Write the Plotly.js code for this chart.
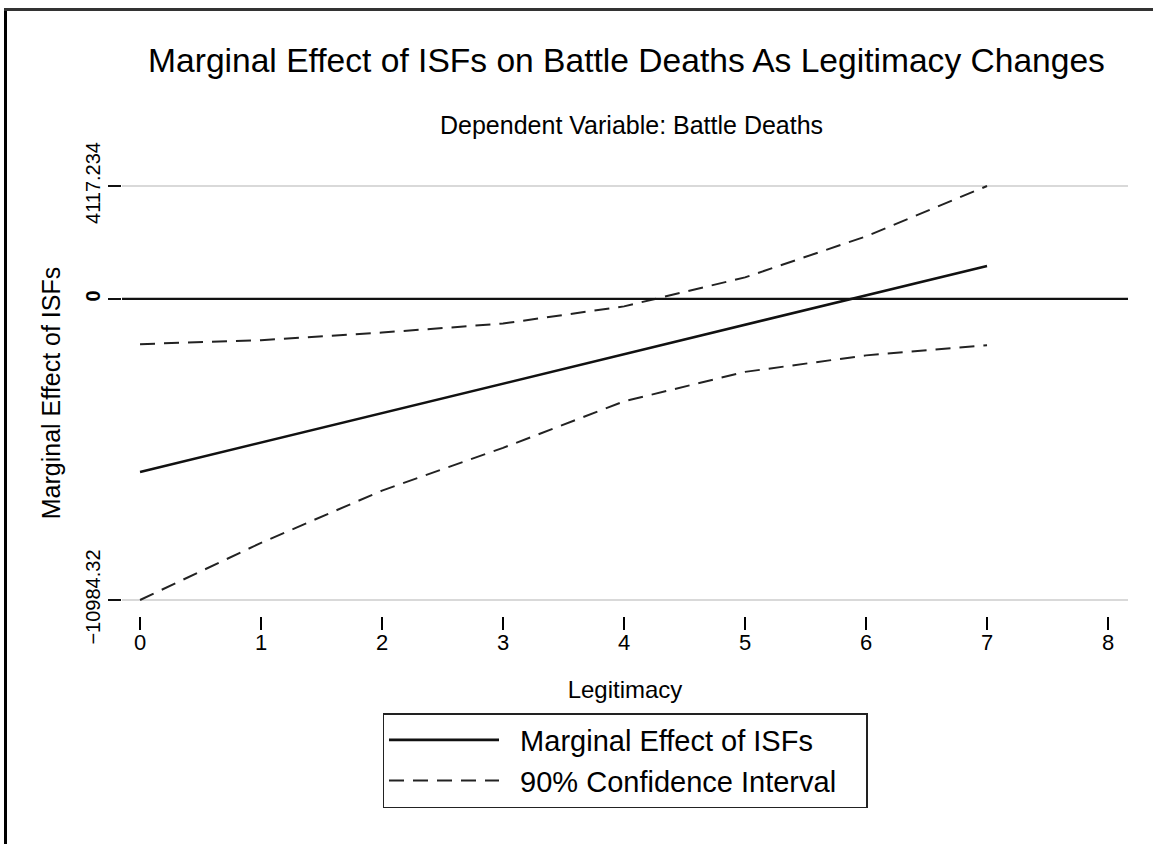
<!DOCTYPE html>
<html>
<head>
<meta charset="utf-8">
<script src="https://cdn.plot.ly/plotly-3.0.1.min.js"></script>
<style>
  html, body { margin: 0; padding: 0; background: #fff; }
  #wrap { position: relative; width: 1153px; height: 844px; }
  #chart { width: 1153px; height: 844px; }
  #bl { position: absolute; left: 4px; top: 8px; width: 3px; height: 836px; background: #000; }
  #bt { position: absolute; left: 4px; top: 8px; width: 1149px; height: 3px; background: #333; }
</style>
</head>
<body>
<div id="wrap">
  <div id="chart"></div>
  <div id="bl"></div>
  <div id="bt"></div>
</div>
<script>
// Data
const legitimacy = [0, 1, 2, 3, 4, 5, 6, 7];
const marginalEffect = [-6315, -5241, -4168, -3094, -2020, -947, 127, 1201];
const upperCI = [-1652, -1506, -1229, -901, -274, 784, 2280, 4117.234];
const lowerCI = [-10984.32, -8900, -6993, -5435, -3739, -2663, -2061, -1689];

const yTickVals = [-10984.32, 0, 4117.234];
const yTickText = ['\u221210984.32', '<b>0</b>', '4117.234'];
const xTickVals = [0, 1, 2, 3, 4, 5, 6, 7, 8];

const FONT = 'Liberation Sans, Arial, Helvetica, sans-serif';
const NB = '\u00a0';

const traces = [
  {
    x: legitimacy, y: marginalEffect, type: 'scatter', mode: 'lines',
    name: NB + NB + 'Marginal Effect of ISFs' + NB + NB + NB,
    line: { color: '#111', width: 2.6 }
  },
  {
    x: legitimacy, y: upperCI, type: 'scatter', mode: 'lines',
    name: NB + NB + '90% Confidence Interval' + NB + NB + NB, legendgroup: 'ci',
    line: { color: '#222', width: 2, dash: '15px,9px' }
  },
  {
    x: legitimacy, y: lowerCI, type: 'scatter', mode: 'lines',
    name: '90% Confidence Interval', legendgroup: 'ci', showlegend: false,
    line: { color: '#222', width: 2, dash: '15px,9px' }
  }
];

const layout = {
  width: 1153, height: 844,
  margin: { l: 122, r: 25, t: 170, b: 228, pad: 0 },
  paper_bgcolor: '#fff', plot_bgcolor: '#fff',
  font: { family: FONT, color: '#000', size: 20 },
  showlegend: true,
  title: {
    text: 'Marginal Effect of ISFs on Battle Deaths As Legitimacy Changes',
    font: { family: FONT, size: 33.6, color: '#000' },
    xref: 'container', x: 626.5 / 1153, xanchor: 'center',
    yref: 'container', y: 1 - 60 / 844, yanchor: 'middle'
  },
  xaxis: {
    range: [-0.149, 8.165],
    tickvals: xTickVals,
    ticks: 'outside', ticklen: 13, tickwidth: 1.2, tickcolor: '#000',
    ticklabelstandoff: -6,
    showgrid: false, zeroline: false, showline: false,
    tickfont: { family: FONT, size: 22, color: '#000' },
    title: { text: 'Legitimacy', font: { family: FONT, size: 24, color: '#000' }, standoff: 26 },
    fixedrange: true
  },
  yaxis: {
    range: [-11567.96, 4700.87],
    tickvals: yTickVals, ticktext: yTickText,
    tickangle: -90,
    ticks: 'outside', ticklen: 13, tickwidth: 1.5, tickcolor: '#111',
    showgrid: true, gridcolor: '#d9d9d9', gridwidth: 1.5,
    zeroline: false, showline: false,
    tickfont: { family: FONT, size: 20, color: '#000' },
    title: { text: 'Marginal Effect of ISFs', font: { family: FONT, size: 25, color: '#000' }, standoff: 14 },
    fixedrange: true
  },
  shapes: [
    { type: 'line', xref: 'paper', x0: 0, x1: 1, yref: 'y', y0: 0, y1: 0,
      line: { color: '#111', width: 2.2 }, layer: 'above' }
  ],
  annotations: [
    { text: 'Dependent Variable: Battle Deaths', xref: 'paper', yref: 'paper',
      x: (631.5 - 122) / 1006, y: (616 - 125) / 446, xanchor: 'center', yanchor: 'middle',
      showarrow: false, font: { family: FONT, size: 25, color: '#000' } }
  ],
  legend: {
    orientation: 'v',
    xref: 'paper', yref: 'paper',
    x: (625 - 122) / 1006, xanchor: 'center', y: (616 - 713) / 446, yanchor: 'top',
    bgcolor: '#fff', bordercolor: '#222', borderwidth: 1.5,
    font: { family: FONT, size: 29, color: '#000' },
    itemwidth: 110, tracegroupgap: 0,
    itemclick: false, itemdoubleclick: false
  }
};

Plotly.newPlot('chart', traces, layout, { staticPlot: true, displayModeBar: false });
</script>
</body>
</html>
